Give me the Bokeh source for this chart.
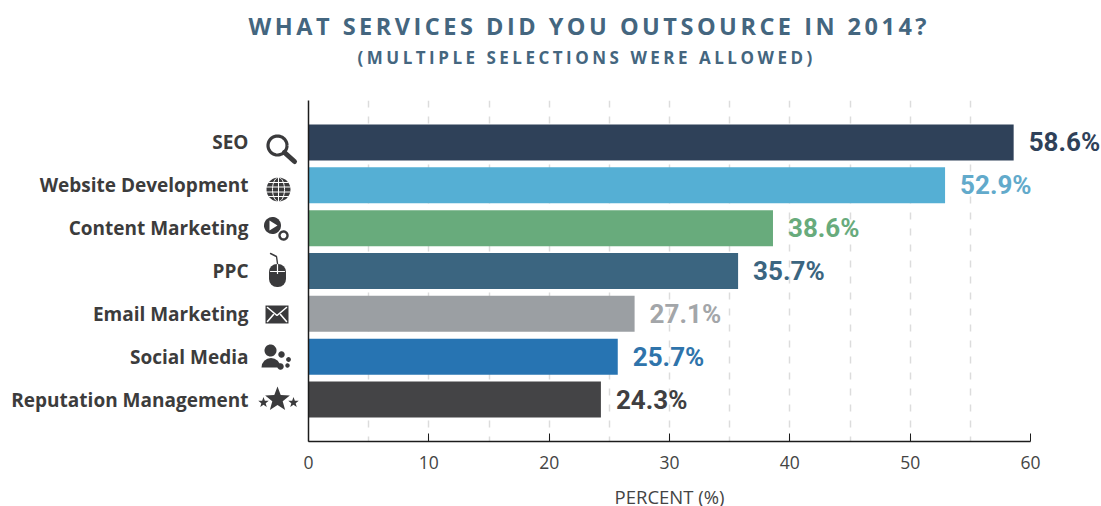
import numpy as np
from bokeh.plotting import figure
from bokeh.layouts import column
from bokeh.models import ColumnDataSource, FixedTicker, Label, Range1d
from bokeh.core.properties import value
from bokeh.embed import file_html
from bokeh.resources import INLINE

services = ["SEO", "Website Development", "Content Marketing", "PPC",
            "Email Marketing", "Social Media", "Reputation Management"]
percent = [58.6, 52.9, 38.6, 35.7, 27.1, 25.7, 24.3]
bar_colors = ["#2f4159", "#55afd4", "#68ab7c", "#3b6580", "#9b9fa3", "#2774b2", "#444446"]
label_colors = ["#2f4159", "#62aacb", "#68ab7c", "#3b6580", "#a3a6a9", "#2f74ab", "#3f3f42"]
x_ticks = [0, 10, 20, 30, 40, 50, 60]
grid_ticks = [5, 10, 15, 20, 25, 30, 35, 40, 45, 50, 55, 60]
title_text = "WHAT SERVICES DID YOU OUTSOURCE IN 2014?"
subtitle_text = "(MULTIPLE SELECTIONS WERE ALLOWED)"
x_title = "PERCENT (%)"
ICON = "#3a3a3c"
HEAD = "#44667f"


def strip(height, **extra):
    """A text-only band the full width of the page."""
    f = figure(width=1101, height=height, x_range=Range1d(0, 1101), y_range=Range1d(height, 0),
               output_backend="svg", toolbar_location=None, min_border=0, outline_line_color=None,
               frame_align=False, **extra)
    f.axis.visible = False
    f.grid.visible = False
    return f


# Heading band: a separate figure so its letter spacing stays local to the heading.
head = strip(80, styles={"letter-spacing": "3.5px"})
head.add_layout(Label(x=248, y=25, text=title_text, text_font="Open Sans",
                      text_font_style="bold", text_font_size="23.5px", text_color=HEAD,
                      text_align="left", text_baseline="middle"))
head.add_layout(Label(x=357, y=57, text=subtitle_text, text_font="Open Sans",
                      text_font_style="bold", text_font_size="17px", text_color=HEAD,
                      text_align="left", text_baseline="middle"))

# Band under the chart carrying the x-axis title, centred below the 0-60 span.
foot = strip(21)
foot.add_layout(Label(x=669, y=11, text=x_title, text_font="Open Sans", text_font_size="18.5px",
                      text_color="#444444", text_align="center", text_baseline="middle"))

rows = list(range(len(services)))
source = ColumnDataSource(dict(
    row=rows, percent=percent, color=bar_colors, text_color=label_colors,
    text=[f"{v:.1f}%" for v in percent],
))

p = figure(width=1101, height=405, y_range=Range1d(6.98, -0.98),
           x_range=Range1d(0, 60), output_backend="svg", toolbar_location=None,
           min_border_left=308, min_border_right=71, min_border_top=20, min_border_bottom=44,
           outline_line_color=None, frame_align=False)

p.hbar(y="row", left=0, right="percent", height=0.84, fill_color="color", line_color=None, source=source)
# Overlay level keeps the longest value label from being cut at the plot frame.
p.text(x="percent", y="row", text="text", source=source, x_offset=15, level="overlay",
       text_color="text_color", text_font=value("Roboto"), text_font_style="bold",
       text_font_size="26px", text_baseline="middle", text_align="left")

# Axes and dashed vertical guides.
p.xgrid.ticker = FixedTicker(ticks=grid_ticks)
p.xgrid.grid_line_color = "#dcdcdc"
p.xgrid.grid_line_dash = "7 9"
p.xgrid.grid_line_width = 1.5
p.ygrid.visible = False

p.xaxis.ticker = FixedTicker(ticks=x_ticks)
p.xaxis.major_tick_in = 8
p.xaxis.major_tick_out = 0
p.xaxis.minor_tick_line_color = None
p.xaxis.axis_line_color = "#1c1c1c"
p.xaxis.axis_line_width = 1.5
p.xaxis.major_tick_line_color = "#1c1c1c"
p.xaxis.major_label_text_font = "Open Sans"
p.xaxis.major_label_text_font_size = "17.5px"
p.xaxis.major_label_text_color = "#444444"
p.xaxis.major_label_standoff = 14

p.yaxis.ticker = FixedTicker(ticks=rows)
p.yaxis.major_label_overrides = dict(zip(rows, services))
p.yaxis.major_tick_line_color = None
p.yaxis.minor_tick_line_color = None
p.yaxis.major_tick_in = 0
p.yaxis.major_tick_out = 0
p.yaxis.axis_line_color = "#1c1c1c"
p.yaxis.axis_line_width = 1.5
p.yaxis.major_label_standoff = 60
p.yaxis.major_label_text_font = "Open Sans"
p.yaxis.major_label_text_font_style = "bold"
p.yaxis.major_label_text_font_size = "19px"
p.yaxis.major_label_text_color = "#3c3c3c"

# Pictograms beside the category names, laid out in page pixels.
p.extra_x_ranges["px"] = Range1d(308, 1030)
p.extra_y_ranges["px"] = Range1d(441, 100)
kw = dict(x_range_name="px", y_range_name="px", level="overlay")


def circle_pts(x, y, r, n=40):
    t = np.linspace(0, 2 * np.pi, n)
    return x + r * np.cos(t), y + r * np.sin(t)


def star_pts(x, y, r):
    t = -np.pi / 2 + np.arange(10) * np.pi / 5
    rad = np.where(np.arange(10) % 2 == 0, r, r * 0.42)
    return x + rad * np.cos(t), y + rad * np.sin(t)


def ring(x, y, r, width, color=ICON):
    xs, ys = circle_pts(x, y, r)
    p.line(xs, ys, line_width=width, line_color=color, **kw)


def disc(x, y, r, color=ICON):
    xs, ys = circle_pts(x, y, r)
    p.patch(xs, ys, fill_color=color, line_color=None, **kw)


def stroke(xs, ys, width, color=ICON):
    p.line(xs, ys, line_width=width, line_color=color, line_cap="round", **kw)


def star(x, y, r):
    xs, ys = star_pts(x, y, r)
    p.patch(xs, ys, fill_color=ICON, line_color=None, **kw)


# magnifier
ring(277, 145, 9.5, 3.2)
stroke([284, 294], [152, 161], 5)

# globe
disc(278, 189, 12)
for dy in (-7, -2.5, 2.5, 7):
    half = np.sqrt(144 - dy * dy)
    stroke([278 - half, 278 + half], [189 + dy, 189 + dy], 1, "white")
t = np.linspace(0, 2 * np.pi, 40)
p.line(278 + 6 * np.cos(t), 189 + 12 * np.sin(t), line_color="white", line_width=1, **kw)
stroke([278, 278], [177, 201], 1, "white")

# play button and cog
disc(272, 225, 8.5)
p.patch([269, 269, 277], [220, 230, 225], fill_color="white", line_color=None, **kw)
ring(283, 235, 4, 2.4)

# mouse
p.rect([277], [275], width=17, height=23, fill_color=ICON, line_color=None,
       border_radius=8, **kw)
stroke([277, 277], [263, 273], 1.2, "white")
stroke([270, 284], [271, 271], 1.2, "white")
stroke([270, 276, 277], [253, 256, 263], 1.4)

# envelope
p.rect([276.5], [314], width=23, height=18, fill_color=ICON, line_color=None, **kw)
stroke([267, 276.5, 286], [307, 315, 307], 1.6, "white")
stroke([267, 273], [321, 314], 1.6, "white")
stroke([286, 280], [321, 314], 1.6, "white")

# people
disc(270, 350, 6)
p.wedge([270.5], [367], radius=9.5, start_angle=0, end_angle=180, start_angle_units="deg",
        end_angle_units="deg", fill_color=ICON, line_color=None, **kw)
disc(281, 354, 3.2)
disc(288, 359, 2.4)
disc(280, 366, 3.2)
disc(287, 365, 2.2)

# three stars
star(277, 399, 13)
star(263, 402, 5.5)
star(293, 402, 5.5)

layout = column(head, p, foot, spacing=0)
open("out.html", "w").write(file_html(layout, INLINE))
